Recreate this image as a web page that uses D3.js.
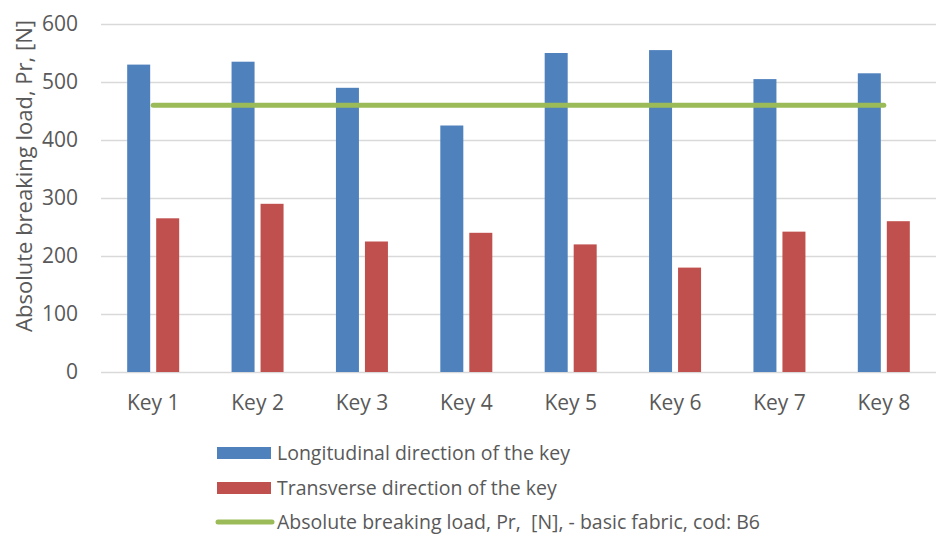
<!DOCTYPE html>
<html><head><meta charset="utf-8">
<script src="https://cdn.jsdelivr.net/npm/d3@7"></script>
<style>body{margin:0;background:#fff}svg{display:block}text{font-family:"Open Sans",sans-serif;fill:#595959}</style>
</head><body><svg id="c" width="936" height="536"></svg>
<script>
const categories = ["Key 1","Key 2","Key 3","Key 4","Key 5","Key 6","Key 7","Key 8"];
const longitudinal = [530,535,490,425,550,555,505,515];
const transverse = [265,290,225,240,220,180,242,260];
const basicFabric = [460,460,460,460,460,460,460,460];
const yTicks = [0,100,200,300,400,500,600];
const seriesNames = ["Longitudinal direction of the key","Transverse direction of the key","Absolute breaking load, Pr,  [N], - basic fabric, cod: B6"];
const colors = ["#4F81BD","#C0504D","#9BBB59"];

const svg = d3.select("#c");
const L=101,R=936,T=24,B=372;
const x = d3.scaleBand().domain(categories).range([L,R]);
const y = d3.scaleLinear().domain([0,600]).range([B,T]);
const bw = 23, gap = 6;

const yAxis = svg.append("g").attr("transform",`translate(${L},0)`)
  .call(d3.axisLeft(y).tickValues(yTicks).tickSize(-(R-L)).tickPadding(23));
yAxis.select(".domain").remove();
yAxis.selectAll(".tick line").attr("stroke","#D9D9D9").attr("stroke-width",1.3);
yAxis.selectAll(".tick text").style("font-size","21px").attr("fill","#595959").style("font-family","'Open Sans',sans-serif");

svg.append("g").selectAll("rect").data(longitudinal).join("rect")
  .attr("x",(d,i)=>x(categories[i])+x.bandwidth()/2-gap/2-bw)
  .attr("y",d=>y(d)).attr("width",bw).attr("height",d=>y(0)-y(d)).attr("fill",colors[0]);
svg.append("g").selectAll("rect").data(transverse).join("rect")
  .attr("x",(d,i)=>x(categories[i])+x.bandwidth()/2+gap/2)
  .attr("y",d=>y(d)).attr("width",bw).attr("height",d=>y(0)-y(d)).attr("fill",colors[1]);

const line = d3.line().x((d,i)=>x(categories[i])+x.bandwidth()/2).y(d=>y(d));
svg.append("path").datum(basicFabric).attr("d",line).attr("fill","none")
  .attr("stroke",colors[2]).attr("stroke-width",5).attr("stroke-linecap","round");

const xAxis = svg.append("g").attr("transform",`translate(0,${B})`)
  .call(d3.axisBottom(x).tickSize(0).tickPadding(23));
xAxis.select(".domain").remove();
xAxis.selectAll(".tick text").style("font-size","21px").attr("fill","#595959").style("font-family","'Open Sans',sans-serif");

svg.append("text").attr("transform","translate(32,176) rotate(-90)")
  .attr("text-anchor","middle").style("font-size","22px").text("Absolute breaking load, Pr, [N]");

const lg = svg.append("g");
const rows=[453,488,522];
seriesNames.forEach((n,i)=>{
  if(i<2) lg.append("rect").attr("x",217).attr("y",rows[i]-6).attr("width",54).attr("height",12).attr("fill",colors[i]);
  else lg.append("line").attr("x1",218).attr("x2",272).attr("y1",rows[i]).attr("y2",rows[i]).attr("stroke",colors[2]).attr("stroke-width",5).attr("stroke-linecap","round");
  lg.append("text").attr("x",277).attr("y",rows[i]).attr("dy","0.35em").style("font-size","19.5px").style("white-space","pre").text(n);
});
</script></body></html>
